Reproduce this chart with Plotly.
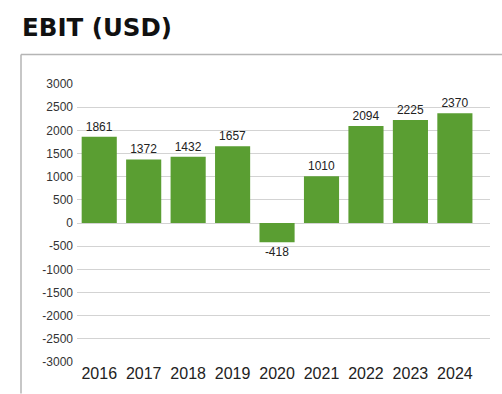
import plotly.graph_objects as go

years = ["2016", "2017", "2018", "2019", "2020", "2021", "2022", "2023", "2024"]
ebit = [1861, 1372, 1432, 1657, -418, 1010, 2094, 2225, 2370]
y_ticks = [3000, 2500, 2000, 1500, 1000, 500, 0, -500, -1000, -1500, -2000, -2500, -3000]

W, H = 502, 394
L, R, T, B = 77, 12, 84, 27
plot_w = W - L - R
plot_h = H - T - B


def px_x(x):
    return (x - L) / plot_w


def px_y(y):
    return (H - B - y) / plot_h


fig = go.Figure(
    go.Bar(
        x=list(range(len(years))),
        y=ebit,
        marker=dict(color="#5a9e32", line=dict(width=0)),
        text=[str(v) for v in ebit],
        textposition="outside",
        textfont=dict(family="Arial, Liberation Sans, sans-serif", size=12, color="#222"),
        cliponaxis=False,
        hoverinfo="skip",
    )
)

fig.update_layout(
    width=W,
    height=H,
    margin=dict(l=L, r=R, t=T, b=B, pad=0),
    paper_bgcolor="white",
    plot_bgcolor="white",
    bargap=0.21,
    showlegend=False,
    xaxis=dict(
        range=[-0.5, 8.79],
        tickmode="array",
        tickvals=list(range(len(years))),
        ticktext=years,
        showgrid=False,
        zeroline=False,
        showline=False,
        ticks="",
        tickfont=dict(family="Arial, Liberation Sans, sans-serif", size=16, color="#222"),
    ),
    yaxis=dict(
        range=[-3000, 3000],
        tickmode="array",
        tickvals=y_ticks,
        ticktext=[str(v) for v in y_ticks],
        showgrid=True,
        gridcolor="#d3d3d3",
        gridwidth=1,
        zeroline=True,
        zerolinecolor="#d3d3d3",
        zerolinewidth=1,
        showline=False,
        ticks="",
        ticklabelstandoff=3,
        tickfont=dict(family="Arial, Liberation Sans, sans-serif", size=12, color="#333"),
    ),
    annotations=[
        dict(
            text="<b>EBIT (USD)</b>",
            xref="paper", yref="paper",
            x=px_x(20), y=px_y(26),
            xanchor="left", yanchor="middle",
            showarrow=False,
            font=dict(family="DejaVu Sans, sans-serif", size=24.5, color="#111"),
        )
    ],
    shapes=[
        # panel frame: top edge and left edge
        dict(type="line", xref="paper", yref="paper",
             x0=px_x(21), x1=px_x(W + 5), y0=px_y(54), y1=px_y(54),
             line=dict(color="#b5b5b5", width=1.5)),
        dict(type="line", xref="paper", yref="paper",
             x0=px_x(21), x1=px_x(21), y0=px_y(54), y1=px_y(H + 5),
             line=dict(color="#b5b5b5", width=1.5)),
    ],
)

fig.write_html("out.html")
